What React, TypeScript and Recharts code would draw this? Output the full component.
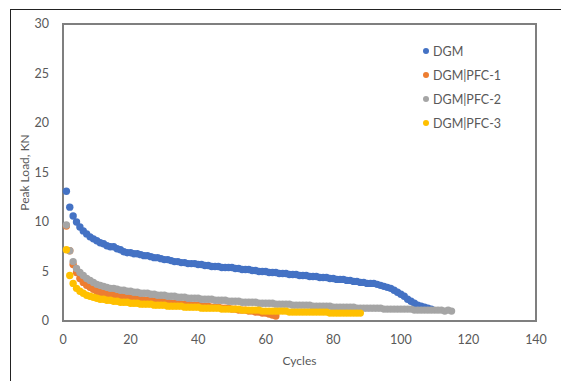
import { ReferenceArea, Scatter, ScatterChart, XAxis, YAxis } from "recharts";

// peak load (kN) per cycle, cycle numbers start at 1
const dgm = [
    13.1, 11.5, 10.6, 10.0, 9.5, 9.1, 8.8, 8.5, 8.3, 8.1,
    7.9, 7.8, 7.6, 7.5, 7.5, 7.3, 7.2, 7.0, 6.9, 6.9,
    6.8, 6.8, 6.7, 6.6, 6.6, 6.5, 6.4, 6.4, 6.3, 6.2,
    6.2, 6.1, 6.0, 6.0, 5.9, 5.9, 5.8, 5.8, 5.8, 5.7,
    5.7, 5.6, 5.6, 5.5, 5.5, 5.5, 5.4, 5.4, 5.4, 5.4,
    5.3, 5.3, 5.2, 5.2, 5.2, 5.1, 5.1, 5.0, 5.0, 5.0,
    4.9, 4.9, 4.9, 4.8, 4.8, 4.8, 4.7, 4.7, 4.7, 4.6,
    4.6, 4.6, 4.5, 4.5, 4.5, 4.4, 4.4, 4.4, 4.3, 4.3,
    4.2, 4.2, 4.2, 4.1, 4.1, 4.0, 4.0, 3.9, 3.9, 3.8,
    3.8, 3.8, 3.7, 3.6, 3.5, 3.4, 3.3, 3.1, 2.9, 2.7,
    2.5, 2.2, 2.0, 1.8, 1.6, 1.5, 1.4, 1.3, 1.2,
];

const pfc1 = [
    9.6, 7.1, 5.7, 4.9, 4.3, 3.9, 3.6, 3.4, 3.2, 3.0,
    2.9, 2.8, 2.7, 2.7, 2.6, 2.5, 2.5, 2.4, 2.4, 2.3,
    2.3, 2.2, 2.2, 2.1, 2.1, 2.1, 2.0, 2.0, 2.0, 1.9,
    1.9, 1.8, 1.8, 1.8, 1.7, 1.7, 1.7, 1.6, 1.6, 1.6,
    1.5, 1.5, 1.5, 1.4, 1.4, 1.4, 1.3, 1.3, 1.3, 1.2,
    1.2, 1.1, 1.1, 1.1, 1.0, 1.0, 0.9, 0.9, 0.8, 0.8,
    0.7, 0.6, 0.5,
];

const pfc2 = [
    9.7, 7.1, 6.0, 5.3, 4.9, 4.6, 4.3, 4.1, 3.9, 3.7,
    3.6, 3.5, 3.4, 3.3, 3.3, 3.2, 3.1, 3.1, 3.0, 3.0,
    2.9, 2.9, 2.8, 2.8, 2.8, 2.7, 2.7, 2.6, 2.6, 2.6,
    2.5, 2.5, 2.5, 2.4, 2.4, 2.4, 2.3, 2.3, 2.3, 2.3,
    2.2, 2.2, 2.2, 2.2, 2.1, 2.1, 2.1, 2.1, 2.0, 2.0,
    2.0, 2.0, 1.9, 1.9, 1.9, 1.9, 1.9, 1.8, 1.8, 1.8,
    1.8, 1.8, 1.7, 1.7, 1.7, 1.7, 1.7, 1.6, 1.6, 1.6,
    1.6, 1.6, 1.6, 1.5, 1.5, 1.5, 1.5, 1.5, 1.5, 1.4,
    1.4, 1.4, 1.4, 1.4, 1.4, 1.4, 1.3, 1.3, 1.3, 1.3,
    1.3, 1.3, 1.3, 1.3, 1.2, 1.2, 1.2, 1.2, 1.2, 1.2,
    1.2, 1.2, 1.2, 1.1, 1.1, 1.1, 1.1, 1.1, 1.1, 1.1,
    1.1, 1.1, 1.0, 1.1, 1.0,
];

const pfc3 = [
    7.2, 4.6, 3.8, 3.3, 3.0, 2.8, 2.6, 2.5, 2.4, 2.3,
    2.2, 2.2, 2.1, 2.1, 2.0, 2.0, 1.9, 1.9, 1.9, 1.8,
    1.8, 1.8, 1.7, 1.7, 1.7, 1.7, 1.6, 1.6, 1.6, 1.6,
    1.5, 1.5, 1.5, 1.5, 1.5, 1.4, 1.4, 1.4, 1.4, 1.4,
    1.3, 1.3, 1.3, 1.3, 1.3, 1.3, 1.2, 1.2, 1.2, 1.2,
    1.2, 1.2, 1.1, 1.1, 1.1, 1.1, 1.1, 1.1, 1.0, 1.0,
    1.0, 1.0, 1.0, 1.0, 1.0, 1.0, 0.9, 0.9, 0.9, 0.9,
    0.9, 0.9, 0.9, 0.9, 0.9, 0.9, 0.9, 0.9, 0.8, 0.8,
    0.8, 0.8, 0.8, 0.8, 0.8, 0.8, 0.8, 0.8,
];

const xTicks = [0, 20, 40, 60, 80, 100, 120, 140];
const yTicks = [0, 5, 10, 15, 20, 25, 30];

const series = [
    { name: "DGM", values: dgm, color: "#4472C4" },
    { name: "DGM|PFC-1", values: pfc1, color: "#ED7D31" },
    { name: "DGM|PFC-2", values: pfc2, color: "#A5A5A5" },
    { name: "DGM|PFC-3", values: pfc3, color: "#FFC000" },
];

const FONT = "Lato, 'Liberation Sans', sans-serif";
const TEXT = "#595959";

const toPoints = (values: number[]) => values.map((load, i) => ({ cycle: i + 1, load }));

const dot = (color: string) => (props: any) => (
    <circle cx={props.cx} cy={props.cy} r={3.7} fill={color} />
);

function LegendBox() {
    return (
        <div
            style={{
                position: "absolute",
                left: 422,
                top: 39,
                fontFamily: FONT,
                fontSize: 12.5,
                color: TEXT,
            }}
        >
            {series.map((s) => (
                <div key={s.name} style={{ display: "flex", alignItems: "center", height: 24 }}>
                    <svg width={8} height={8} style={{ marginRight: 3 }}>
                        <circle cx={4} cy={4} r={3} fill={s.color} />
                    </svg>
                    <span>{s.name}</span>
                </div>
            ))}
        </div>
    );
}

function YTitle(props: any) {
    const { viewBox } = props;
    const x = viewBox.x + 21;
    const y = viewBox.y + viewBox.height / 2;
    return (
        <text
            x={x}
            y={y}
            transform={`rotate(-90, ${x}, ${y})`}
            textAnchor="middle"
            dominantBaseline="central"
            fontFamily={FONT}
            fontSize={12}
            fill={TEXT}
        >
            Peak Load, KN
        </text>
    );
}

export default function App() {
    const tick = { fontFamily: FONT, fontSize: 12.5, fill: TEXT };
    return (
        <div
            style={{
                position: "absolute",
                left: 0,
                top: 0,
                width: 561,
                height: 381,
                overflow: "hidden",
                background: "#fff",
            }}
        >
            <div
                style={{
                    position: "absolute",
                    left: 10,
                    top: 9,
                    width: 600,
                    height: 400,
                    borderLeft: "1.5px solid #222",
                    borderTop: "1.5px solid #222",
                }}
            />
            <ScatterChart
                width={561}
                height={381}
                margin={{ top: 24, right: 25, bottom: 30, left: 3 }}
                style={{ position: "absolute", left: 0, top: 0 }}
            >
                <XAxis
                    type="number"
                    dataKey="cycle"
                    domain={[0, 140]}
                    ticks={xTicks}
                    tickLine={false}
                    tickMargin={8}
                    axisLine={{ stroke: "#7f7f7f", strokeWidth: 2 }}
                    tick={tick}
                    height={30}
                    label={{ value: "Cycles", position: "bottom", offset: 5, style: { ...tick, fontSize: 12 } }}
                />
                <YAxis
                    type="number"
                    dataKey="load"
                    domain={[0, 30]}
                    ticks={yTicks}
                    tickLine={false}
                    tickMargin={8}
                    axisLine={{ stroke: "#7f7f7f", strokeWidth: 2 }}
                    tick={tick}
                    width={60}
                    label={<YTitle />}
                />
                <ReferenceArea
                    x1={0}
                    x2={140}
                    y1={0}
                    y2={30}
                    fill="none"
                    stroke="#7f7f7f"
                    strokeWidth={2}
                />
                {series.map((s) => (
                    <Scatter
                        key={s.name}
                        name={s.name}
                        data={toPoints(s.values)}
                        fill={s.color}
                        shape={dot(s.color)}
                        isAnimationActive={false}
                    />
                ))}
            </ScatterChart>
            <LegendBox />
        </div>
    );
}
